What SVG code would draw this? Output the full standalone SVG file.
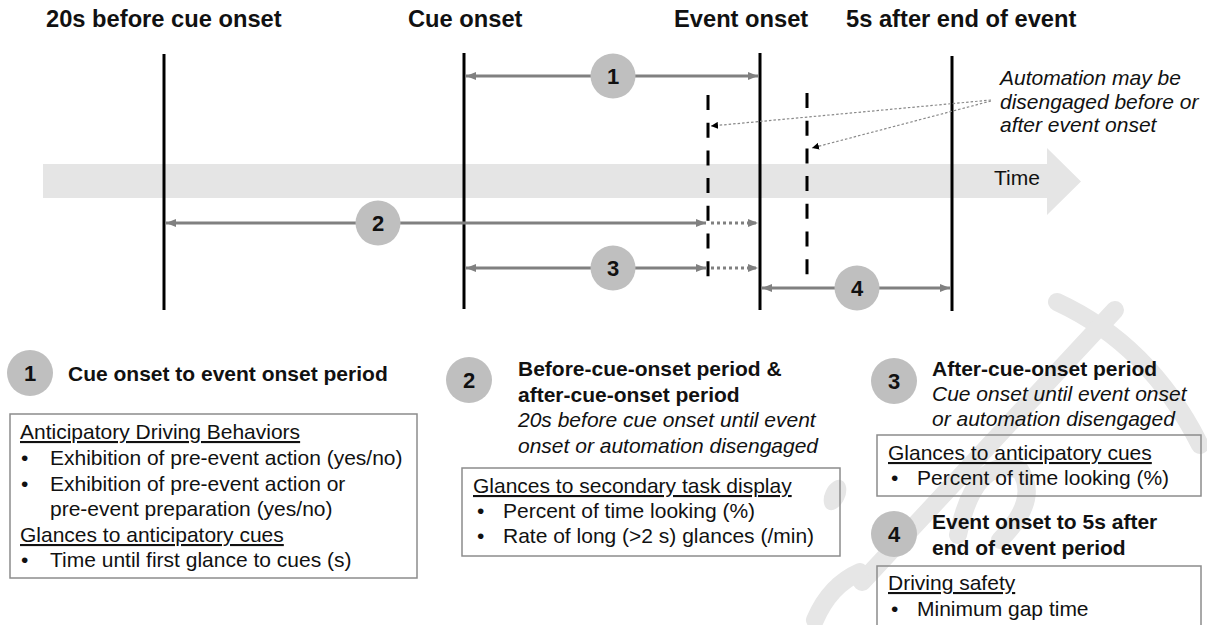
<svg xmlns="http://www.w3.org/2000/svg" width="1207" height="625" viewBox="0 0 1207 625">
<style>
text{font-family:"Liberation Sans",Arial,sans-serif;fill:#111}
.hd{font-size:23.7px;font-weight:bold}
.b{font-size:21px;font-weight:bold}
.r{font-size:21px}
.i{font-size:21px;font-style:italic}
.u{text-decoration:underline}
.num{font-size:22px;font-weight:bold;text-anchor:middle}
.circ{fill:#bfbfbf}
.vl{stroke:#000;stroke-width:3;fill:none}
.dl{stroke:#000;stroke-width:3;fill:none;stroke-dasharray:15 12.7}
.ar{stroke:#808080;stroke-width:2.8;fill:none}
.dot{stroke:#808080;stroke-width:2.8;fill:none;stroke-dasharray:3 3}
.ann{stroke:#8a8a8a;stroke-width:1.2;fill:none;stroke-dasharray:2.5 2}
.box{fill:none;stroke:#8c8c8c;stroke-width:1.5}
.wm{fill:none;stroke:#e6e6e6;stroke-width:18;stroke-linecap:round}
</style>
<defs>
<marker id="ah" markerUnits="userSpaceOnUse" markerWidth="10" markerHeight="8" refX="10" refY="4" orient="auto-start-reverse">
<path d="M0,0 L10,4 L0,8 Z" fill="#808080"/>
</marker>
<marker id="ak" markerUnits="userSpaceOnUse" markerWidth="7" markerHeight="7" refX="7" refY="3.5" orient="auto">
<path d="M0,0 L7,3.5 L0,7 Z" fill="#000"/>
</marker>
</defs>

<g id="watermark">
<path class="wm" d="M1057 302 Q1150 345 1200 445"/>
<path class="wm" d="M1115 310 L862 582"/>
<path class="wm" d="M958 535 Q975 455 1020 470 Q1040 500 1000 540"/>
<ellipse cx="835" cy="495" rx="10" ry="16" transform="rotate(25 835 495)" fill="#e6e6e6"/>
<path class="wm" d="M815 620 Q830 585 860 572"/>
</g>

<g id="timeline">
<path d="M43 164 H1047 V148 L1081 181.5 L1047 215 V198 H43 Z" fill="#e5e5e5"/>
<text class="r" x="994" y="185">Time</text>
</g>

<g id="markers-lines">
<line class="vl" x1="164" y1="54" x2="164" y2="310"/>
<line class="vl" x1="464" y1="53" x2="464" y2="309"/>
<line class="vl" x1="760" y1="53" x2="760" y2="310"/>
<line class="vl" x1="952" y1="56" x2="952" y2="311"/>
<line class="dl" x1="708" y1="95" x2="708" y2="278"/>
<line class="dl" x1="807" y1="93" x2="807" y2="276"/>
</g>

<g id="headers">
<text class="hd" x="46" y="27">20s before cue onset</text>
<text class="hd" x="408" y="27">Cue onset</text>
<text class="hd" x="674" y="27">Event onset</text>
<text class="hd" x="846" y="27">5s after end of event</text>
</g>

<g id="connectors">
<line class="ar" x1="466" y1="76" x2="758" y2="76" marker-start="url(#ah)" marker-end="url(#ah)"/>
<line class="ar" x1="166" y1="223" x2="706" y2="223" marker-start="url(#ah)" marker-end="url(#ah)"/>
<line class="dot" x1="711" y1="223" x2="758" y2="223" marker-end="url(#ah)"/>
<line class="ar" x1="466" y1="268" x2="706" y2="268" marker-start="url(#ah)" marker-end="url(#ah)"/>
<line class="dot" x1="711" y1="268" x2="758" y2="268" marker-end="url(#ah)"/>
<line class="ar" x1="762" y1="288" x2="950" y2="288" marker-start="url(#ah)" marker-end="url(#ah)"/>
<line class="ann" x1="991" y1="100" x2="711" y2="126" marker-end="url(#ak)"/>
<line class="ann" x1="991" y1="101" x2="812" y2="148" marker-end="url(#ak)"/>
</g>

<g id="period1"><circle class="circ" cx="613" cy="76" r="22.5"/><text class="num" x="613" y="84">1</text></g>
<g id="period2"><circle class="circ" cx="378" cy="223" r="22.5"/><text class="num" x="378" y="231">2</text></g>
<g id="period3"><circle class="circ" cx="613" cy="268" r="22.5"/><text class="num" x="613" y="276">3</text></g>
<g id="period4"><circle class="circ" cx="857" cy="288" r="22.5"/><text class="num" x="857" y="296">4</text></g>

<g id="annotation">
<text class="i" x="1000" y="85">Automation may be</text>
<text class="i" x="1000" y="108.5">disengaged before or</text>
<text class="i" x="1000" y="132">after event onset</text>
</g>

<g id="legend1">
<circle class="circ" cx="30" cy="373" r="23"/><text class="num" x="30" y="381">1</text>
<text class="b" x="68" y="381">Cue onset to event onset period</text>
<rect class="box" x="10" y="414" width="407" height="164"/>
<text class="r u" x="20" y="439">Anticipatory Driving Behaviors</text>
<text class="r" x="21" y="465">•</text><text class="r" x="50" y="465">Exhibition of pre-event action (yes/no)</text>
<text class="r" x="21" y="491">•</text><text class="r" x="50" y="491">Exhibition of pre-event action or</text>
<text class="r" x="50" y="516">pre-event preparation (yes/no)</text>
<text class="r u" x="20" y="542">Glances to anticipatory cues</text>
<text class="r" x="21" y="567">•</text><text class="r" x="50" y="567">Time until first glance to cues (s)</text>
</g>

<g id="legend2">
<circle class="circ" cx="469" cy="380" r="23"/><text class="num" x="469" y="388">2</text>
<text class="b" x="518" y="376">Before-cue-onset period &amp;</text>
<text class="b" x="518" y="401.5">after-cue-onset period</text>
<text class="i" x="518" y="427">20s before cue onset until event</text>
<text class="i" x="518" y="452.5">onset or automation disengaged</text>
<rect class="box" x="462" y="468" width="378" height="88"/>
<text class="r u" x="473" y="493">Glances to secondary task display</text>
<text class="r" x="477" y="518">•</text><text class="r" x="503" y="518">Percent of time looking (%)</text>
<text class="r" x="477" y="543">•</text><text class="r" x="503" y="543">Rate of long (&gt;2 s) glances (/min)</text>
</g>

<g id="legend3">
<circle class="circ" cx="894" cy="381" r="23"/><text class="num" x="894" y="389">3</text>
<text class="b" x="932" y="376">After-cue-onset period</text>
<text class="i" x="932" y="401">Cue onset until event onset</text>
<text class="i" x="932" y="426">or automation disengaged</text>
<rect class="box" x="877" y="435" width="324" height="61"/>
<text class="r u" x="888" y="460">Glances to anticipatory cues</text>
<text class="r" x="891" y="485">•</text><text class="r" x="917" y="485">Percent of time looking (%)</text>
</g>

<g id="legend4">
<circle class="circ" cx="894" cy="534" r="23"/><text class="num" x="894" y="542">4</text>
<text class="b" x="932" y="529">Event onset to 5s after</text>
<text class="b" x="932" y="555">end of event period</text>
<rect class="box" x="877" y="566" width="324" height="70"/>
<text class="r u" x="888" y="590">Driving safety</text>
<text class="r" x="891" y="616">•</text><text class="r" x="917" y="616">Minimum gap time</text>
</g>
</svg>
